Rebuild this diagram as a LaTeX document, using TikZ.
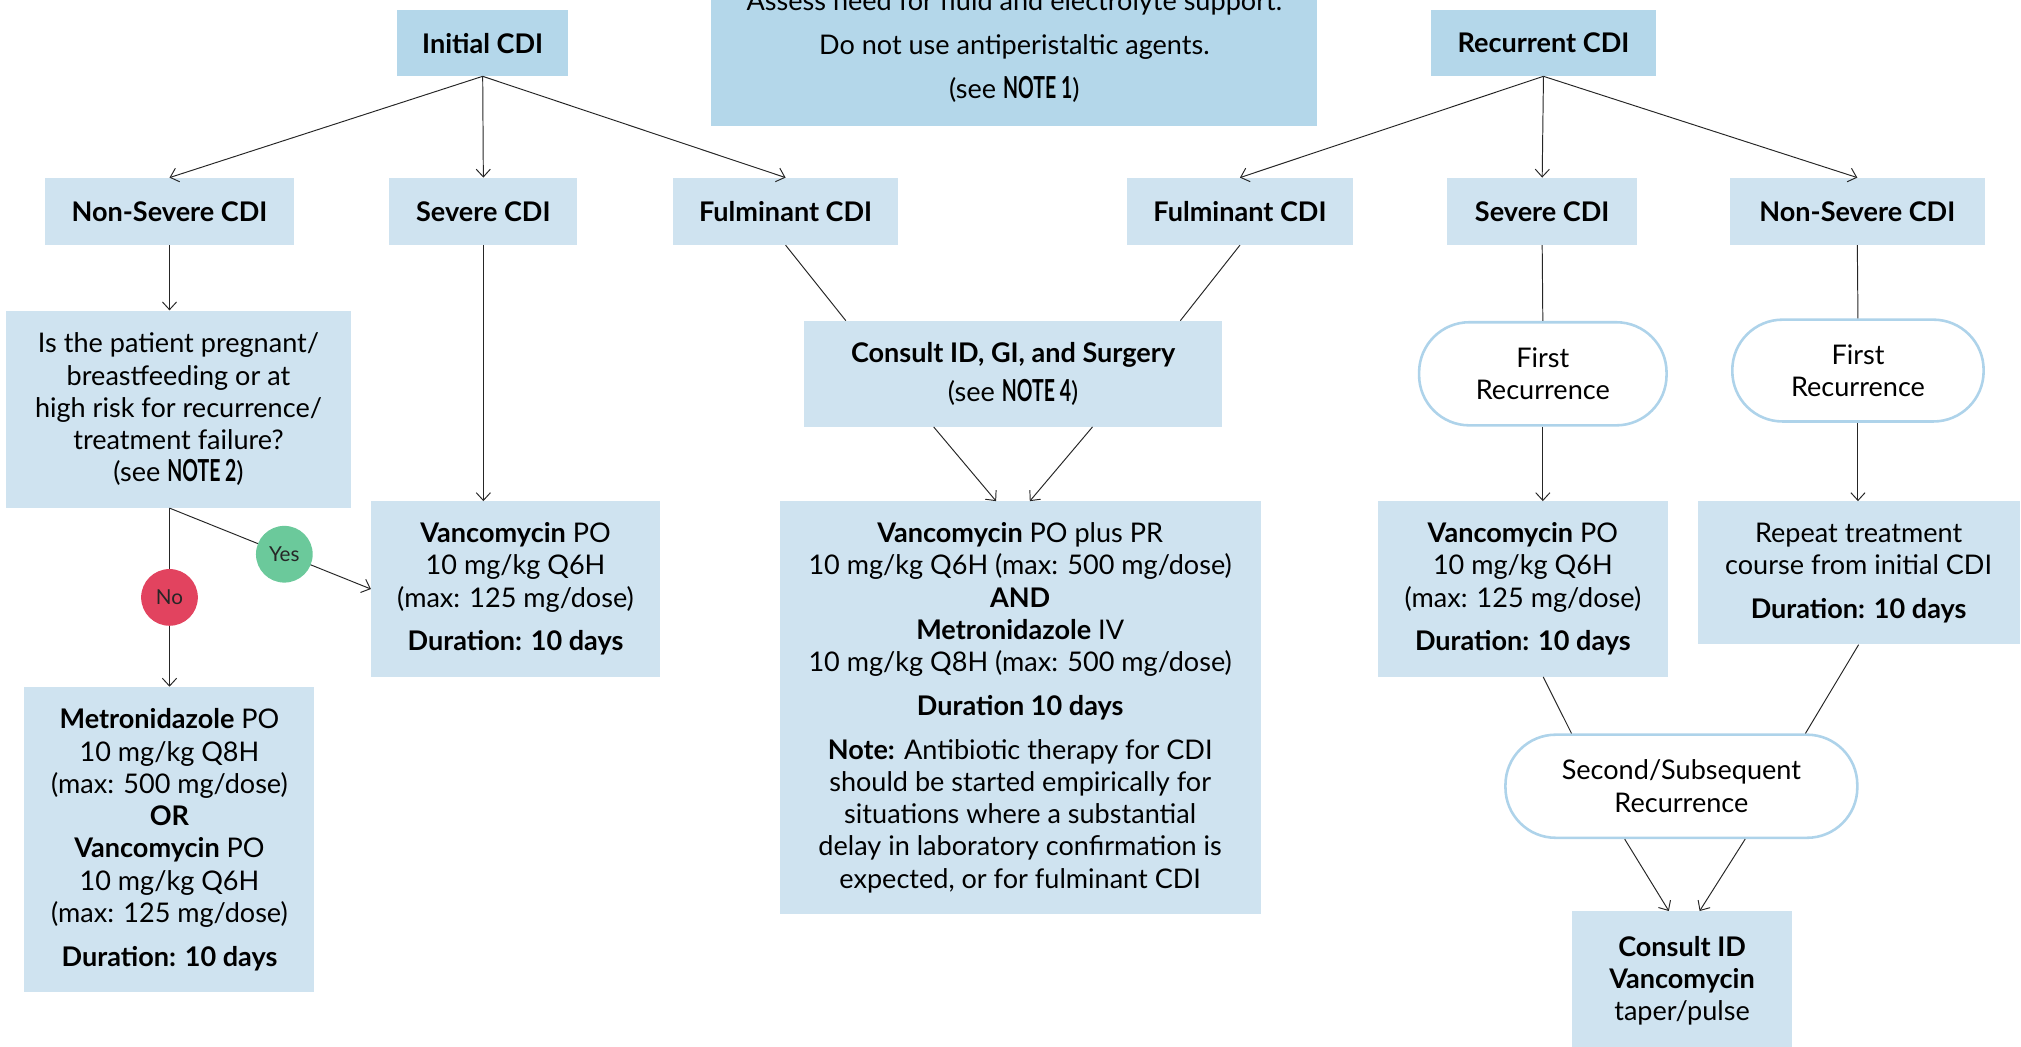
\documentclass[tikz,border=0pt]{standalone}
\usepackage{fontspec}
\setmainfont{Lato}
\usepackage{graphicx}
\usepackage{tikz}
\usetikzlibrary{arrows.meta,shapes,calc}
\definecolor{topblue}{HTML}{B4D7EA}
\definecolor{boxblue}{HTML}{CFE3F0}
\definecolor{rimblue}{HTML}{AED3EA}
\definecolor{yesgreen}{HTML}{6BC99B}
\definecolor{nored}{HTML}{E2435F}
\newcommand{\notetag}[1]{\scalebox{0.72}[1.12]{\bfseries NOTE #1}}
\tikzstyle{topbox}=[rectangle,fill=topblue,align=center,inner sep=0pt]
\tikzstyle{box}=[rectangle,fill=boxblue,align=center,inner sep=0pt]
\tikzstyle{recur}=[rectangle,rounded corners=39pt,draw=rimblue,line width=2pt,fill=white,align=center,inner sep=0pt]
\tikzstyle{yesno}=[circle,minimum size=44pt,inner sep=0pt,font=\fontsize{16}{18}\selectfont]
\tikzstyle{edge}=[draw,line width=0.75pt,black!85,-{Straight Barb[length=6pt,width=11pt]}]
\tikzstyle{plainedge}=[draw,line width=0.75pt,black!85]

\begin{document}
\fontsize{21}{25}\selectfont
\begin{tikzpicture}[x=1pt,y=-1pt]

	\useasboundingbox (0,0) rectangle (1568,812);
	\clip (0,0) rectangle (1568,812);

%top row
	\node[topbox,minimum width=133pt,minimum height=51pt,font=\bfseries] (init) at (374.5,33.5) {Initial CDI};
	\node[topbox,minimum width=175pt,minimum height=51pt,font=\bfseries] (rec) at (1197.5,33.5) {Recurrent CDI};
	\node[topbox,minimum width=470pt,minimum height=124pt] (note) at (787,36)
		{Assess need for fluid and electrolyte support.\\[9pt] Do not use antiperistaltic agents.\\[9pt] (see \notetag{1})};

%layer 2
	\foreach \pos/\name/\w/\txt in {{(131.5,164)/nsL/193/Non-Severe CDI}, {(375,164)/sevL/146/Severe CDI}, {(609.5,164)/fulL/175/Fulminant CDI},
		{(962,164)/fulR/176/Fulminant CDI}, {(1196.5,164)/sevR/147/Severe CDI}, {(1441,164)/nsR/198/Non-Severe CDI}}
		\node[box,minimum width=\w*1pt,minimum height=52pt,font=\bfseries] (\name) at \pos {\txt};

%layer 3
	\node[box,minimum width=267pt,minimum height=153pt] (quest) at (138.5,317.5)
		{Is the patient pregnant/\\ breastfeeding or at\\ high risk for recurrence/\\ treatment failure?\\ (see \notetag{2})};
	\node[box,minimum width=324pt,minimum height=82pt] (consult) at (786,290)
		{\textbf{Consult ID, GI, and Surgery}\\[5pt] (see \notetag{4})};
	\node[recur,minimum width=192pt,minimum height=80pt] (firstA) at (1197,290) {First\\ Recurrence};
	\node[recur,minimum width=195pt,minimum height=79pt] (firstB) at (1441.5,287.5) {First\\ Recurrence};

%layer 4
	\node[box,minimum width=224pt,minimum height=136pt] (vancoL) at (400,457)
		{\textbf{Vancomycin} PO\\ 10 mg/kg Q6H\\ (max: 125 mg/dose)\\[9pt] \textbf{Duration: 10 days}};
	\node[box,minimum width=373pt,minimum height=320pt] (fulm) at (791.5,549)
		{\textbf{Vancomycin} PO plus PR\\ 10 mg/kg Q6H (max: 500 mg/dose)\\ \textbf{AND}\\ \textbf{Metronidazole} IV\\
		 10 mg/kg Q8H (max: 500 mg/dose)\\[9pt] \textbf{Duration 10 days}\\[9pt]
		 \textbf{Note:} Antibiotic therapy for CDI\\ should be started empirically for\\ situations where a substantial\\
		 delay in laboratory confirmation is\\ expected, or for fulminant CDI};
	\node[box,minimum width=225pt,minimum height=136pt] (vancoR) at (1181.5,457)
		{\textbf{Vancomycin} PO\\ 10 mg/kg Q6H\\ (max: 125 mg/dose)\\[9pt] \textbf{Duration: 10 days}};
	\node[box,minimum width=250pt,minimum height=111pt] (repeat) at (1442,444.5)
		{Repeat treatment\\ course from initial CDI\\[9pt] \textbf{Duration: 10 days}};

%layer 5
	\node[box,minimum width=225pt,minimum height=237pt] (metro) at (131.5,651.5)
		{\textbf{Metronidazole} PO\\ 10 mg/kg Q8H\\ (max: 500 mg/dose)\\ \textbf{OR}\\ \textbf{Vancomycin} PO\\
		 10 mg/kg Q6H\\ (max: 125 mg/dose)\\[9pt] \textbf{Duration: 10 days}};
	\node[recur,minimum width=273pt,minimum height=80pt] (second) at (1304.5,610) {Second/Subsequent\\ Recurrence};
	\node[box,minimum width=170pt,minimum height=108pt] (cid) at (1305,761)
		{\textbf{Consult ID}\\ \textbf{Vancomycin}\\ taper/pulse};

	% Connect boxes
	\foreach \source/ \dest in {init/nsL, init/sevL, init/fulL, rec/fulR, rec/sevR, rec/nsR}
		\path[edge] (\source.south) -- (\dest.north);

	\path[edge] (nsL.south) -- (nsL.south |- quest.north);
	\path[edge] (sevL.south) -- (sevL.south |- vancoL.north);
	\coordinate (qb) at (nsL.south |- quest.south);
	\path[edge] (qb) -- node[yesno,fill=yesgreen,pos=0.57] (yes) {Yes} (vancoL.west);
	\path[edge] (qb) -- node[yesno,fill=nored,pos=0.5] (no) {No} (metro.north);

	%fulminant
	\path[plainedge] (fulL.south) -- ($(consult.north west)!0.1!(consult.north east)$);
	\path[plainedge] (fulR.south) -- ($(consult.north west)!0.9!(consult.north east)$);
	\path[edge] ($(consult.south west)!0.31!(consult.south east)$) -- ($(fulm.north west)!0.45!(fulm.north east)$);
	\path[edge] ($(consult.south west)!0.69!(consult.south east)$) -- ($(fulm.north west)!0.52!(fulm.north east)$);

	%recurrent
	\path[plainedge] (sevR.south) -- (firstA.north);
	\path[edge] (firstA.south) -- (firstA.south |- vancoR.north);
	\path[plainedge] (nsR.south) -- (firstB.north);
	\path[edge] (firstB.south) -- (firstB.south |- repeat.north);
	\path[plainedge] ($(vancoR.south west)!0.57!(vancoR.south east)$) -- ($(second.north west)!0.19!(second.north east)$);
	\path[plainedge] (repeat.south) -- ($(second.north west)!0.85!(second.north east)$);
	\path[edge] ($(second.south west)!0.34!(second.south east)$) -- ($(cid.north west)!0.44!(cid.north east)$);
	\path[edge] ($(second.south west)!0.68!(second.south east)$) -- ($(cid.north west)!0.58!(cid.north east)$);

\end{tikzpicture}
\end{document}
